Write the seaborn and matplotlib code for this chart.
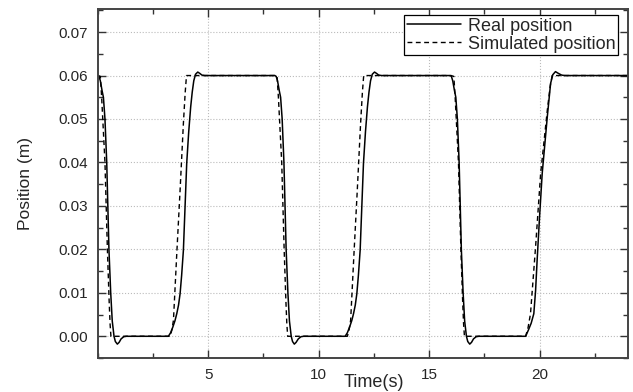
import numpy as np
import pandas as pd
import seaborn as sns
import matplotlib.pyplot as plt
from matplotlib.ticker import MultipleLocator, FormatStrFormatter

# values
t_real = [0.0, 0.06, 0.12, 0.20, 0.26, 0.33, 0.41, 0.46, 0.51, 0.59, 0.66, 0.74, 0.80, 0.89, 0.97, 1.06, 1.18, 1.30,
          3.20, 3.30, 3.40, 3.50, 3.58, 3.66, 3.73, 3.80, 3.88, 4.03, 4.12, 4.21, 4.28, 4.35, 4.43, 4.53, 4.62, 4.72, 4.85,
          8.02, 8.08, 8.14, 8.22, 8.28, 8.35, 8.43, 8.48, 8.53, 8.61, 8.68, 8.76, 8.82, 8.90, 8.98, 9.08, 9.20, 9.32,
          11.20, 11.30, 11.40, 11.50, 11.58, 11.66, 11.73, 11.80, 11.88, 12.03, 12.12, 12.21, 12.28, 12.35, 12.43, 12.53, 12.62, 12.72, 12.85,
          15.95, 16.01, 16.07, 16.15, 16.21, 16.28, 16.36, 16.41, 16.46, 16.54, 16.61, 16.69, 16.75, 16.84, 16.92, 17.01, 17.13, 17.25,
          19.37, 19.50, 19.62, 19.74, 19.82, 19.89, 20.00, 20.12, 20.35, 20.50, 20.60, 20.72, 20.85, 21.00, 21.15, 24.0]
y_real = [0.0600, 0.0598, 0.0588, 0.0565, 0.0550, 0.0500, 0.0400, 0.0300, 0.0200, 0.0100, 0.0035, 0.0000, -0.0012, -0.0018, -0.0014, -0.0006, -0.0001, 0.0000,
          0.0000, 0.0008, 0.0021, 0.0036, 0.0052, 0.0072, 0.0098, 0.0140, 0.0198, 0.0398, 0.0470, 0.0528, 0.0562, 0.0588, 0.0603, 0.0608, 0.0605, 0.0601, 0.0600,
          0.0600, 0.0598, 0.0588, 0.0565, 0.0550, 0.0500, 0.0400, 0.0300, 0.0200, 0.0100, 0.0035, 0.0000, -0.0012, -0.0018, -0.0014, -0.0006, -0.0001, 0.0000,
          0.0000, 0.0008, 0.0021, 0.0036, 0.0052, 0.0072, 0.0098, 0.0140, 0.0198, 0.0398, 0.0470, 0.0528, 0.0562, 0.0588, 0.0603, 0.0608, 0.0605, 0.0601, 0.0600,
          0.0600, 0.0598, 0.0588, 0.0565, 0.0550, 0.0500, 0.0400, 0.0300, 0.0200, 0.0100, 0.0035, 0.0000, -0.0012, -0.0018, -0.0014, -0.0006, -0.0001, 0.0000,
          0.0000, 0.0015, 0.0030, 0.0052, 0.0105, 0.0175, 0.0275, 0.0375, 0.0505, 0.0582, 0.0602, 0.0609, 0.0605, 0.0601, 0.0600, 0.0600]

t_sim = [0.0, 0.12, 0.18, 0.26, 0.33, 0.44, 0.52, 0.56, 0.60,
         3.28, 3.36, 3.43, 3.58, 3.73, 3.88, 3.96, 4.02,
         8.00, 8.12, 8.18, 8.26, 8.33, 8.44, 8.52, 8.56, 8.60,
         11.30, 11.38, 11.45, 11.60, 11.75, 11.90, 11.98, 12.04,
         16.00, 16.12, 16.18, 16.26, 16.33, 16.44, 16.52, 16.56, 16.60,
         19.37, 19.48, 19.59, 19.82, 20.05, 20.35, 20.48, 20.57, 24.0]
y_sim = [0.0600, 0.0598, 0.0550, 0.0470, 0.0400, 0.0200, 0.0080, 0.0030, 0.0000,
         0.0000, 0.0015, 0.0037, 0.0190, 0.0336, 0.0490, 0.0560, 0.0600,
         0.0600, 0.0598, 0.0550, 0.0470, 0.0400, 0.0200, 0.0080, 0.0030, 0.0000,
         0.0000, 0.0015, 0.0037, 0.0190, 0.0336, 0.0490, 0.0560, 0.0600,
         0.0600, 0.0598, 0.0550, 0.0470, 0.0400, 0.0200, 0.0080, 0.0030, 0.0000,
         0.0000, 0.0020, 0.0052, 0.0206, 0.0375, 0.0520, 0.0575, 0.0600, 0.0600]

x_ticks = [5, 10, 15, 20]
y_ticks = [0.00, 0.01, 0.02, 0.03, 0.04, 0.05, 0.06, 0.07]

sns.set_style('white')
plt.rcParams['font.family'] = ['Liberation Sans', 'DejaVu Sans']

fig = plt.figure(figsize=(6.33, 3.92), dpi=100)
ax = fig.add_axes([0.1543, 0.0867, 0.8377, 0.8891])

real = pd.DataFrame({'t': t_real, 'y': y_real})
sim = pd.DataFrame({'t': t_sim, 'y': y_sim})
sns.lineplot(data=real, x='t', y='y', ax=ax, color='black', lw=1.1,
             estimator=None, sort=False, label='Real position')
sns.lineplot(data=sim, x='t', y='y', ax=ax, color='black', lw=1.0,
             estimator=None, sort=False, dashes=False, label='Simulated position')
ax.lines[1].set_dashes((3.5, 2.5))

ax.set_xlim(0, 24)
ax.set_ylim(-0.005, 0.0752)
ax.set_xticks(x_ticks)
ax.set_yticks(y_ticks)
ax.xaxis.set_minor_locator(MultipleLocator(2.5))
ax.yaxis.set_minor_locator(MultipleLocator(0.005))
ax.yaxis.set_major_formatter(FormatStrFormatter('%.2f'))
ax.tick_params(which='both', direction='in', top=True, right=True, bottom=True, left=True,
               color='#333333', width=1.0)
ax.tick_params(which='major', length=6, labelsize=11, pad=7)
ax.tick_params(which='minor', length=3.5)
ax.grid(True, which='major', linestyle=':', color='#bbbbbb', lw=0.8)
for s in ax.spines.values():
    s.set_color('#444444')
    s.set_linewidth(1.4)

ax.set_xlabel('Time(s)', fontsize=13)
ax.xaxis.set_label_coords(0.52, -0.045)
ax.set_ylabel('Position (m)', fontsize=12.5)
ax.yaxis.set_label_coords(-0.122, 0.5)

leg = ax.legend(loc='upper right', bbox_to_anchor=(0.981, 0.984), borderaxespad=0,
                fontsize=13, fancybox=False, framealpha=1, edgecolor='black',
                handlelength=3.0, handletextpad=0.35, labelspacing=0.05, borderpad=0.15)
leg.get_frame().set_linewidth(0.9)

plt.savefig('out.png', dpi=100)
